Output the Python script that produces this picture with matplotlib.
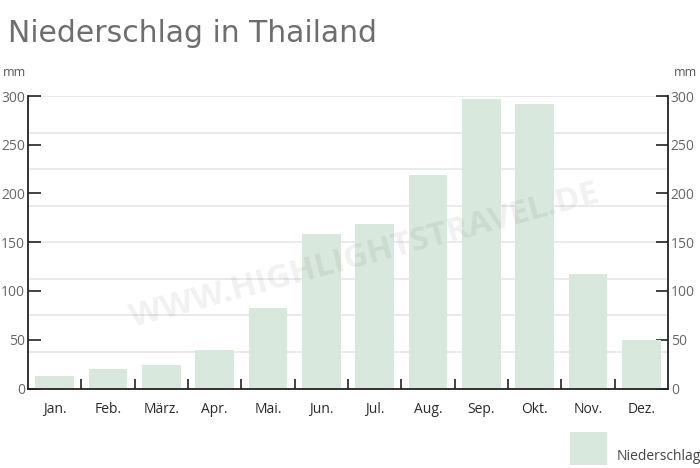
import matplotlib
matplotlib.use("Agg")
import matplotlib.pyplot as plt
import numpy as np

months = ["Jan.", "Feb.", "März.", "Apr.", "Mai.", "Jun.", "Jul.", "Aug.", "Sep.", "Okt.", "Nov.", "Dez."]
rain = [13, 20, 24, 40, 83, 158, 169, 219, 297, 292, 117, 50]
yticks = [0, 50, 100, 150, 200, 250, 300]
grid_levels = [0, 37.5, 75, 112.5, 150, 187.5, 225, 262.5, 300]

W, H = 700, 468
fig = plt.figure(figsize=(W / 100, H / 100), dpi=100)
ax = fig.add_axes([28 / W, 1 - 388.5 / H, 640 / W, 292.5 / H])

bar_color = "#d9e8dc"
x = np.arange(len(months))
ax.bar(x, rain, width=0.72, color=bar_color, zorder=2)

ax.set_xlim(-0.5, 11.5)
ax.set_ylim(0, 300)

# grid lines
for g in grid_levels[1:]:
    ax.axhline(g, color="#e8e8e8", lw=1.3, zorder=0)

for s in ["top"]:
    ax.spines[s].set_visible(False)
for s in ["left", "right", "bottom"]:
    ax.spines[s].set_color("#222222")
    ax.spines[s].set_linewidth(1.3)

tick_font = "Open Sans"
ax.set_yticks(yticks)
ax.tick_params(axis="y", direction="in", length=9, width=1.2, color="#222222",
               labelcolor="#666666", labelsize=10, pad=2, left=True, right=True,
               labelleft=True, labelright=True)
for lab in ax.get_yticklabels():
    lab.set_fontfamily(tick_font)

ax.set_xticks(x)
ax.set_xticklabels(months, fontfamily=tick_font, fontsize=10, color="#2a2a2a")
ax.tick_params(axis="x", length=0, pad=10)
ax.set_xticks(np.arange(len(months) - 1) + 0.5, minor=True)
ax.tick_params(axis="x", which="minor", direction="in", length=7, width=1.2, color="#222222")

# units
fig.text(3 / W, 1 - 72 / H, "mm", fontsize=9, color="#555555", fontfamily=tick_font, va="center", ha="left")
fig.text(697 / W, 1 - 72 / H, "mm", fontsize=9, color="#555555", fontfamily=tick_font, va="center", ha="right")

# title
fig.text(8 / W, 1 - 34 / H, "Niederschlag in Thailand", fontsize=21.5, color="#6e6e6e",
         fontfamily="DejaVu Sans", va="center", ha="left")

# watermark
fig.text(365 / W, 1 - 256 / H, "WWW.HIGHLIGHTSTRAVEL.DE", fontsize=24, color="#000000", alpha=0.06,
         fontfamily=tick_font, fontweight="bold", rotation=15, ha="center", va="center")

# legend
leg = fig.add_axes([570 / W, 1 - 465 / H, 37 / W, 33 / H])
leg.axis("off")
leg.add_patch(plt.Rectangle((0, 0), 1, 1, color=bar_color, transform=leg.transAxes))
fig.text(617 / W, 1 - 457 / H, "Niederschlag", fontsize=10, color="#444444",
         fontfamily=tick_font, va="center", ha="left")

fig.savefig("out.png", dpi=100)
